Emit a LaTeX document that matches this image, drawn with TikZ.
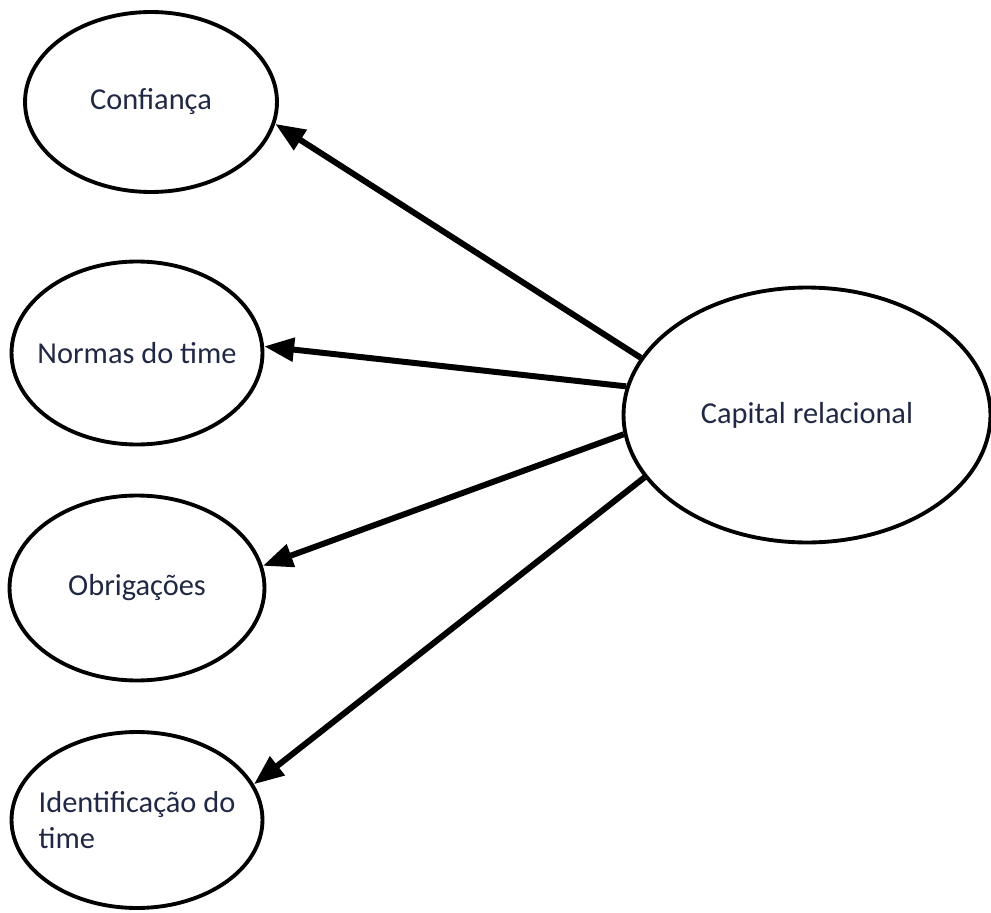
\documentclass[tikz,border=0pt]{standalone}
\usepackage{fontspec}
\setmainfont{Carlito}
\usetikzlibrary{shapes.geometric,arrows.meta}

\definecolor{textnavy}{RGB}{32,40,68}

\tikzset{
    construct/.style = {draw, ellipse, line width = 2.2pt, inner ysep = 0pt,
        inner xsep = -1cm, text = textnavy,
        font = \fontsize{17.3}{21}\selectfont},
    link/.style = {-{Triangle[length = 0.6cm, width = 0.46cm]},
        line width = 3.4pt}
}

\begin{document}
\begin{tikzpicture}[x = 0.02cm, y = -0.02cm]

    \useasboundingbox (0, 0) rectangle (991, 913);

    \node[construct, minimum width = 5.04cm, minimum height = 3.6cm]
        (conf) at (151, 102) {Confiança};
    \node[construct, minimum width = 5.02cm, minimum height = 3.66cm]
        (norm) at (137, 353) {Normas do time};
    \node[construct, minimum width = 5.1cm, minimum height = 3.7cm]
        (obrig) at (137, 588) {Obrigações};
    \node[construct, minimum width = 5.02cm, minimum height = 3.52cm,
        align = left] (ident) at (137, 820) {Identificação do\\time};

    \node[construct, minimum width = 7.34cm, minimum height = 5.1cm]
        (cap) at (807, 415) {Capital relacional};

    \draw[link] (cap.161) -- (conf.-10);
    \draw[link] (cap.171) -- (norm.3);
    \draw[link] (cap.186) -- (obrig.10);
    \draw[link] (cap.201) -- (ident.17);

\end{tikzpicture}
\end{document}
